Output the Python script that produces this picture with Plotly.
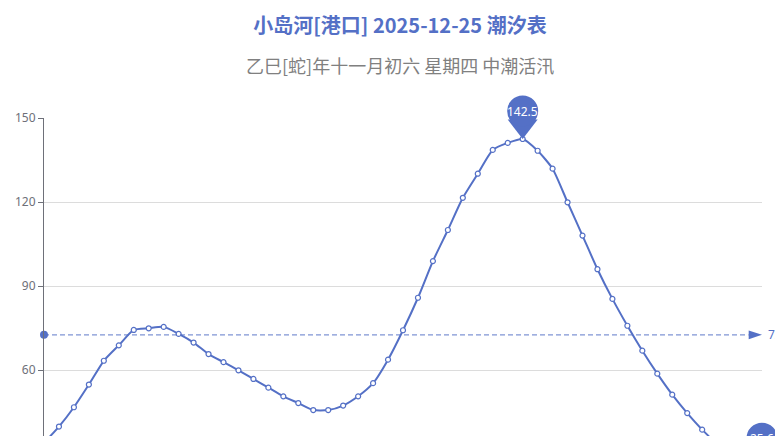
import numpy as np
import plotly.graph_objects as go

# ---- data ----
times = [f"{h:02d}:{m:02d}" for h in range(25) for m in (0, 30)][:49]
tide = [34.0, 39.8, 46.7, 54.8, 63.3, 68.8, 74.3, 74.9, 75.4, 72.9,
        69.8, 65.7, 62.8, 59.9, 56.8, 53.7, 50.6, 48.2, 45.7, 45.7,
        47.3, 50.6, 55.3, 63.7, 74.2, 85.8, 98.9, 110.0, 121.5, 130.1,
        138.6, 141.1, 142.5, 138.3, 131.9, 119.9, 108.0, 96.0, 85.4, 75.8,
        66.9, 58.7, 51.2, 44.6, 38.7, 33.6, 29.7, 27.2, 25.6]
y_ticks = [0, 30, 60, 90, 120, 150]
title_text = "小岛河[港口] 2025-12-25 潮汐表"
subtitle_text = "乙巳[蛇]年十一月初六 星期四 中潮活汛"

BLUE = "#5470C6"
AXIS = "#6E7079"
x = list(range(len(tide)))
avg = float(np.mean(tide))
i_max = int(np.argmax(tide))
i_min = int(np.argmin(tide))

# the chart is taller than the window; only its upper part is visible,
# as in the reference
W, H = 775, 520
ML, MR, MT, MB = 44, 13, 118, 0
plot_h = H - MT - MB

fig = go.Figure()

# average mark line (dashed)
fig.add_shape(type="line", xref="x", yref="y", x0=0, x1=len(tide) - 1.9,
              y0=avg, y1=avg, layer="above",
              line=dict(color="rgba(84,112,198,0.75)", width=1.3, dash="5px,3px"))

# tide curve
fig.add_trace(go.Scatter(
    x=x, y=tide, mode="lines+markers", text=times,
    line=dict(color=BLUE, width=2, shape="spline", smoothing=0.6),
    marker=dict(symbol="circle", size=5, color="white",
                line=dict(color=BLUE, width=1.2)),
    hovertemplate="%{text}: %{y}<extra></extra>"))

# average line ends
fig.add_trace(go.Scatter(
    x=[0], y=[avg], mode="markers", cliponaxis=False, hoverinfo="skip",
    marker=dict(symbol="circle", size=8, color=BLUE, line=dict(width=0))))
fig.add_trace(go.Scatter(
    x=[len(tide) - 1], y=[avg], mode="markers", cliponaxis=False, hoverinfo="skip",
    marker=dict(symbol="arrow", size=14, angle=90, color=BLUE, line=dict(width=0))))

# max / min pins
pin_x = [i_max, i_min]
pin_y = [tide[i_max], tide[i_min]]
fig.add_trace(go.Scatter(
    x=pin_x, y=pin_y, mode="markers", cliponaxis=False, hoverinfo="skip",
    marker=dict(symbol="triangle-up", size=26, angle=180, standoff=13,
                color=BLUE, line=dict(width=0))))
fig.add_trace(go.Scatter(
    x=pin_x, y=pin_y, mode="markers", cliponaxis=False, hoverinfo="skip",
    marker=dict(symbol="circle", size=31, angle=180, standoff=28,
                color=BLUE, line=dict(width=0))))

for px_, py_ in zip(pin_x, pin_y):
    fig.add_annotation(x=px_, y=py_, xref="x", yref="y", text=f"{py_:g}",
                       showarrow=False, yshift=28, xanchor="center", yanchor="middle",
                       font=dict(family="Noto Sans", size=12, color="white"))

fig.add_annotation(x=len(tide) - 1, y=avg, xref="x", yref="y", text=f"{avg:.2f}",
                   showarrow=False, xanchor="left", yanchor="middle", xshift=4,
                   font=dict(family="Noto Sans", size=12, color=BLUE))

fig.add_annotation(x=(400 - ML) / (W - ML - MR), y=(H - 65) / plot_h,
                   xref="paper", yref="paper",
                   text=subtitle_text, showarrow=False, xanchor="center", yanchor="middle",
                   font=dict(family="Noto Sans CJK SC", size=18, color="#808080"))

fig.update_layout(
    width=W, height=H,
    margin=dict(l=ML, r=MR, t=MT, b=MB, pad=0),
    paper_bgcolor="white", plot_bgcolor="white", showlegend=False,
    title=dict(text=title_text, x=400 / W, xref="container", xanchor="center",
               y=1 - 26 / H, yref="container", yanchor="middle",
               font=dict(family="Noto Sans CJK SC", size=20, color=BLUE, weight="bold")),
    xaxis=dict(range=[0, len(tide) - 1], showgrid=False, showticklabels=False,
               ticks="", showline=False, zeroline=False,
               tickvals=x, ticktext=times),
    yaxis=dict(range=[150 - plot_h / 2.8, 150], tickvals=y_ticks, showgrid=True,
               gridcolor="#DCDCDC", gridwidth=1, showline=True, linecolor=AXIS,
               linewidth=1, ticks="outside", ticklen=5, tickcolor=AXIS,
               tickfont=dict(family="Noto Sans", size=12, color=AXIS),
               zeroline=False),
)

fig.write_html(
    "out.html",
    config={"displayModeBar": False},
    post_script="document.body.style.margin='0';"
                "document.body.style.overflow='hidden';"
                "document.documentElement.style.overflow='hidden';",
)
